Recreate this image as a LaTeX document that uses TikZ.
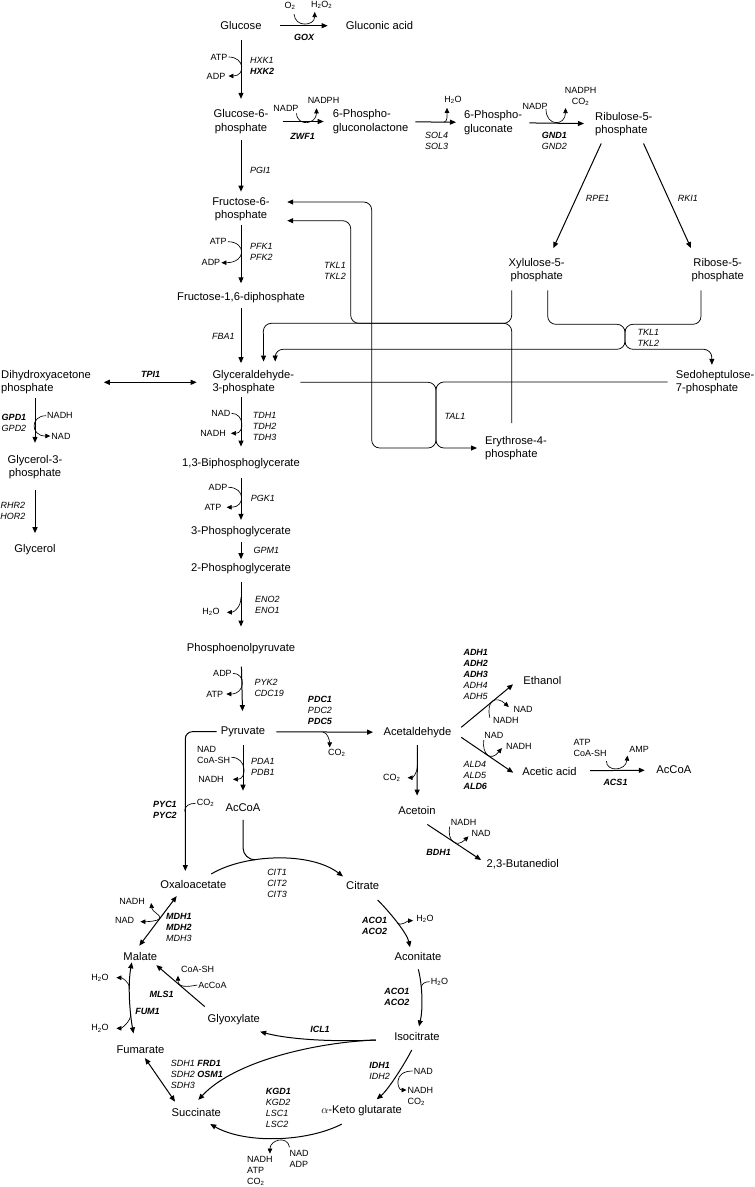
\documentclass[tikz,border=0pt]{standalone}
\usepackage{fontspec}
\setmainfont{Liberation Sans}
\usetikzlibrary{arrows.meta}
\newcommand{\htwoo}{H\textsubscript{2}O}
\newcommand{\cotwo}{CO\textsubscript{2}}

\tikzset{
  met/.style={font=\fontsize{11.2}{13.5}\selectfont, inner sep=2pt},
  metl/.style={met, align=left},
  metc/.style={met, align=center},
  cof/.style={font=\fontsize{9}{11}\selectfont, inner sep=1pt},
  enz/.style={font=\fontsize{9}{11}\selectfont\itshape, inner sep=1pt, align=center},
  enzl/.style={enz, align=left},
  rxn/.style={-{Triangle[length=6pt,width=5pt]}, line width=1pt},
  revrxn/.style={{Triangle[length=6pt,width=5pt]}-{Triangle[length=6pt,width=5pt]}, line width=1pt},
  cofin/.style={line width=0.65pt},
  cofout/.style={-{Triangle[length=5pt,width=4.5pt]}, line width=0.65pt},
  cofboth/.style={{Triangle[length=5pt,width=4.5pt]}-{Triangle[length=5pt,width=4.5pt]}, line width=0.65pt},
  tkline/.style={-{Triangle[length=6pt,width=5pt]}, line width=0.75pt, rounded corners=8pt},
  sh/.style 2 args={shorten <=#1, shorten >=#2},
}

\begin{document}
\begin{tikzpicture}[x=1pt,y=-1pt]
  \useasboundingbox (0,0) rectangle (755,1187);

  % metabolites
  \node[met] (glc) at (241,25.7) {Glucose};
  \node[met] (gla) at (379.5,25.7) {Gluconic acid};
  \node[metc] (g6p) at (241,121.5) {Glucose-6-\\phosphate};
  \node[metl, anchor=west] (pgl) at (330.7,121.5) {6-Phospho-\\gluconolactone};
  \node[metl, anchor=west] (pgn) at (462,122.5) {6-Phospho-\\gluconate};
  \node[metl, anchor=west] (ru5p) at (593,124) {Ribulose-5-\\phosphate};
  \node[metc] (x5p) at (536.7,270.2) {Xylulose-5-\\phosphate};
  \node[metc] (r5p) at (717.7,270.2) {Ribose-5-\\phosphate};
  \node[metc] (f6p) at (241,209) {Fructose-6-\\phosphate};
  \node[met] (fbp) at (241,297.7) {Fructose-1,6-diphosphate};
  \node[metl, anchor=west] (gap) at (210.3,382.3) {Glyceraldehyde-\\3-phosphate};
  \node[metl, anchor=west] (dhap) at (-1,382.3) {Dihydroxyacetone\\phosphate};
  \node[metl, anchor=west] (s7p) at (673.7,382) {Sedoheptulose-\\7-phosphate};
  \node[metl, anchor=west] (e4p) at (483,448) {Erythrose-4-\\phosphate};
  \node[metc] (g3p) at (35,467) {Glycerol-3-\\phosphate};
  \node[met] (glyc) at (35,550) {Glycerol};
  \node[met] (bpg) at (241,463.3) {1,3-Biphosphoglycerate};
  \node[met] (pg3) at (241,531.7) {3-Phosphoglycerate};
  \node[met] (pg2) at (241,568.3) {2-Phosphoglycerate};
  \node[met] (pep) at (241,648.3) {Phosphoenolpyruvate};
  \node[met] (pyr) at (243,731.7) {Pyruvate};
  \node[met] (acald) at (417.5,732.3) {Acetaldehyde};
  \node[met] (etoh) at (542.3,680) {Ethanol};
  \node[met] (acet) at (549.5,771) {Acetic acid};
  \node[met] (accoa2) at (673.8,770) {AcCoA};
  \node[met] (acetoin) at (417,810.7) {Acetoin};
  \node[met] (btd) at (522.8,864) {2,3-Butanediol};
  \node[met] (accoa) at (243,807.7) {AcCoA};
  \node[met] (oaa) at (193.3,884.3) {Oxaloacetate};
  \node[met] (cit) at (362.7,885.7) {Citrate};
  \node[met] (aco) at (418,956) {Aconitate};
  \node[met] (icit) at (417,1036.7) {Isocitrate};
  \node[met] (akg) at (361.7,1110.7) {$\alpha$-Keto glutarate};
  \node[met] (suc) at (196.3,1112.7) {Succinate};
  \node[met] (fum) at (140.5,1050) {Fumarate};
  \node[met] (mal) at (140.3,956) {Malate};
  \node[met] (glx) at (233.8,1019.3) {Glyoxylate};

  % genes
  \node[enz] (gox) at (304,37) {\textbf{GOX}};
  \node[enzl, anchor=west] (hxk) at (249,65.5) {HXK1\\\textbf{HXK2}};
  \node[enz] (zwf) at (302.7,136) {\textbf{ZWF1}};
  \node[enz] (sol) at (436.7,140.5) {SOL4\\SOL3};
  \node[enz] (gnd) at (554.3,141.2) {\textbf{GND1}\\GND2};
  \node[enz, anchor=west] (rpe) at (584.7,198.3) {RPE1};
  \node[enz, anchor=west] (rki) at (676.7,198.3) {RKI1};
  \node[enz, anchor=west] (pgi) at (249,170) {PGI1};
  \node[enzl, anchor=west] (pfk) at (249,251.7) {PFK1\\PFK2};
  \node[enz] (tkla) at (335,271.2) {TKL1\\TKL2};
  \node[enzl, anchor=west] (tklb) at (636.3,338.2) {TKL1\\TKL2};
  \node[enz, anchor=west] (tal) at (443.3,416.7) {TAL1};
  \node[enz] (fba) at (223.3,336.7) {FBA1};
  \node[enz] (tpi) at (150.7,374) {\textbf{TPI1}};
  \node[enz] (gpd) at (14,422.5) {\textbf{GPD1}\\GPD2};
  \node[enz] (rhr) at (13,510.5) {RHR2\\HOR2};
  \node[enzl, anchor=west] (tdh) at (251.7,426) {TDH1\\TDH2\\TDH3};
  \node[enz, anchor=west] (pgk) at (249.7,498.3) {PGK1};
  \node[enz, anchor=west] (gpm) at (252.3,550) {GPM1};
  \node[enzl, anchor=west] (eno) at (254,605) {ENO2\\ENO1};
  \node[enzl, anchor=west] (pyk) at (253.3,688) {PYK2\\CDC19};
  \node[enz] (pdc) at (320,710) {\textbf{PDC1}\\PDC2\\\textbf{PDC5}};
  \node[enzl, anchor=west] (pda) at (250,767.2) {PDA1\\PDB1};
  \node[enz] (pyc) at (165,809.5) {\textbf{PYC1}\\\textbf{PYC2}};
  \node[enzl, anchor=west] (adh) at (462.3,674.7) {\textbf{ADH1}\\\textbf{ADH2}\\\textbf{ADH3}\\ADH4\\ADH5};
  \node[enzl, anchor=west] (ald) at (462.3,775) {ALD4\\ALD5\\\textbf{ALD6}};
  \node[enz] (acs) at (615.5,782.3) {\textbf{ACS1}};
  \node[enz] (bdh) at (438.7,852.7) {\textbf{BDH1}};
  \node[enz] (cits) at (277,883.3) {CIT1\\CIT2\\CIT3};
  \node[enz] (acoa) at (374.7,925.7) {\textbf{ACO1}\\\textbf{ACO2}};
  \node[enz] (acob) at (396.8,997) {\textbf{ACO1}\\\textbf{ACO2}};
  \node[enzl, anchor=west] (mdh) at (165,927.3) {\textbf{MDH1}\\\textbf{MDH2}\\MDH3};
  \node[enz] (fumz) at (147.5,1011.7) {\textbf{FUM1}};
  \node[enz] (mls) at (161.7,994) {\textbf{MLS1}};
  \node[enz] (icl) at (320,1029.3) {\textbf{ICL1}};
  \node[enzl, anchor=west] (sdh) at (169.7,1074) {SDH1 \textbf{FRD1}\\SDH2 \textbf{OSM1}\\SDH3};
  \node[enz] (idh) at (379.7,1070.5) {\textbf{IDH1}\\IDH2};
  \node[enzl, anchor=west] (kgd) at (264.7,1107.8) {\textbf{KGD1}\\KGD2\\LSC1\\LSC2};

  % cofactors
  \node[cof] (o2) at (290,6) {O\textsubscript{2}};
  \node[cof] (h2o2) at (321.7,5) {H\textsubscript{2}O\textsubscript{2}};
  \node[cof] (atp1) at (219,57) {ATP};
  \node[cof] (adp1) at (216,76) {ADP};
  \node[cof] (nadp1) at (286,108) {NADP};
  \node[cof] (nadph1) at (323.5,100) {NADPH};
  \node[cof] (h2o1) at (453,100) {\htwoo};
  \node[cof] (nadp2) at (535,106.7) {NADP};
  \node[cof, align=center] (nadph2) at (580.5,96.7) {NADPH\\\cotwo};
  \node[cof] (atp2) at (218.3,241.7) {ATP};
  \node[cof] (adp2) at (211,262.7) {ADP};
  \node[cof] (nadh1) at (60,415.7) {NADH};
  \node[cof] (nad1) at (61,436) {NAD};
  \node[cof] (nad2) at (220.8,413.3) {NAD};
  \node[cof] (nadh2) at (213,433.3) {NADH};
  \node[cof] (adp3) at (218,487.3) {ADP};
  \node[cof] (atp3) at (213,507.3) {ATP};
  \node[cof] (h2o3) at (211,612.3) {\htwoo};
  \node[cof] (adp4) at (222.5,673.3) {ADP};
  \node[cof] (atp4) at (214.7,694) {ATP};
  \node[cof] (co2a) at (336.7,753.3) {\cotwo};
  \node[cof, align=left, anchor=west] (pdain) at (196,755.3) {NAD\\CoA-SH};
  \node[cof] (nadh3) at (211,779.3) {NADH};
  \node[cof] (co2b) at (205.5,803.3) {\cotwo};
  \node[cof] (co2c) at (391.7,777.7) {\cotwo};
  \node[cof] (nad4) at (523,709.3) {NAD};
  \node[cof] (nadh4) at (505.8,720) {NADH};
  \node[cof] (nad5) at (493.8,735) {NAD};
  \node[cof] (nadh5) at (518.8,746) {NADH};
  \node[cof, align=left, anchor=west] (acsin) at (572.5,748.3) {ATP\\CoA-SH};
  \node[cof] (amp) at (639.2,749) {AMP};
  \node[cof] (nadh6) at (463.7,822.3) {NADH};
  \node[cof] (nad6) at (481.2,833.3) {NAD};
  \node[cof] (h2o4) at (425,919.3) {\htwoo};
  \node[cof] (h2o5) at (439.5,981.7) {\htwoo};
  \node[cof] (nadh7) at (132.2,901) {NADH};
  \node[cof] (nad7) at (124.7,920.7) {NAD};
  \node[cof] (coash) at (197.7,969.3) {CoA-SH};
  \node[cof] (accoa3) at (212.5,985) {AcCoA};
  \node[cof] (h2o6) at (100,977.7) {\htwoo};
  \node[cof] (h2o7) at (100,1028.3) {\htwoo};
  \node[cof] (nad8) at (423.3,1071) {NAD};
  \node[cof, align=left, anchor=west] (nadh8) at (406.5,1096) {NADH\\\cotwo};
  \node[cof, align=left, anchor=west] (kgdin) at (288.5,1159) {NAD\\ADP};
  \node[cof, align=left, anchor=west] (kgdout) at (246,1170.5) {NADH\\ATP\\\cotwo};

  % glucose, pentose phosphate
  \draw[rxn, sh={16pt}{16pt}] (glc) -- (gla);
  \draw[cofout] ([shift={(4,8)}]o2.center) .. controls +(1,14) and +(0,14) .. ([shift={(-7,7)}]h2o2.center);
  \draw[rxn, sh={8pt}{8.5pt}] (glc) -- (g6p);
  \draw[cofout] (atp1.east) .. controls +(16.5,0) and +(17,0) .. ([xshift=2pt]adp1.east);
  \draw[rxn, sh={12pt}{7pt}] (g6p) -- (pgl);
  \draw[cofout] ([shift={(10.5,1)}]nadp1.south) .. controls +(1,14) and +(0,16) .. ([shift={(-7,4)}]nadph1.south);
  \draw[rxn, sh={5pt}{6pt}] (pgl) -- coordinate[pos=0.65] (solc) (pgn);
  \draw[cofout] (solc) .. controls +(4,0) and +(0,6) .. ([shift={(-6,3)}]h2o1.south);
  \draw[rxn, sh={5pt}{9pt}] (pgn) -- (ru5p);
  \draw[cofout] ([shift={(11,-2)}]nadp2.south) .. controls +(0,18) and +(0,18) .. ([shift={(-15,1)}]nadph2.south);
  \draw[rxn] ([shift={(-22.6,5.3)}]ru5p.south) -- ([shift={(16.6,-7.9)}]x5p.north);
  \draw[rxn] ([shift={(19.7,5.3)}]ru5p.south) -- ([shift={(-26.7,-7.9)}]r5p.north);

  % glycolysis
  \draw[rxn, sh={4.5pt}{3.3pt}] (g6p) -- (f6p);
  \draw[rxn, sh={2pt}{7pt}] (f6p) -- (fbp);
  \draw[cofout] (atp2.east) .. controls +(18.4,0) and +(25.2,0) .. (adp2.east);
  \draw[rxn, sh={3pt}{5pt}] (fbp) -- (fbp |- gap.north);
  \draw[revrxn, sh={10.7pt}{13.6pt}] (dhap) -- (gap);
  \draw[rxn, sh={0.7pt}{9.3pt}] (fbp |- gap.south) -- (bpg);
  \draw[cofout] (nad2.east) .. controls +(13,0) and +(13.6,0) .. ([xshift=4pt]nadh2.east);
  \draw[rxn, sh={7.7pt}{4.4pt}] (bpg) -- (pg3);
  \draw[cofout] (adp3.east) .. controls +(17.2,0) and +(18.7,0) .. ([xshift=4pt]atp3.east);
  \draw[rxn, sh={2.7pt}{1.7pt}] (pg3) -- (pg2);
  \draw[rxn, sh={6pt}{14.3pt}] (pg2) -- coordinate[pos=0.33] (enoc) (pep);
  \draw[cofout] (enoc) .. controls +(0,10) and +(7,0) .. ([xshift=6pt]h2o3.east);
  \draw[rxn, sh={11pt}{13.4pt}] (pep) -- (pyr);
  \draw[cofout] (adp4.east) .. controls +(13.3,0) and +(19.1,0) .. ([xshift=2pt]atp4.east);

  % glycerol
  \draw[rxn, sh={2pt}{10pt}] (dhap.south -| g3p) -- (g3p);
  \draw[cofout] (nadh1.west) .. controls +(-16,0) and +(-20,0) .. (nad1.west);
  \draw[rxn, sh={9pt}{9.4pt}] (g3p) -- (glyc);

  % pentose phosphate links
  \draw[tkline] ([xshift=4pt]gap.east) -| (436,448) -- ([xshift=-6pt]e4p.west);
  \draw[tkline] ([xshift=-6pt]s7p.west) -| (436,448) -| (371.7,202) -- ([shift={(15.4,-7)}]f6p.east);
  \draw[tkline] ([shift={(-25,6)}]x5p.south) |- (263.3,323.3) -- ([shift={(10.3,-6.6)}]gap.north);
  \draw[tkline] ([shift={(28.7,-10.7)}]e4p.north west) |- (350.7,323.3) |- ([shift={(15.4,11.7)}]f6p.east);
  \draw[tkline] ([shift={(11,6)}]x5p.south) |- (625,324.3) |- (275,349.3) -- ([shift={(22,-6.6)}]gap.north);
  \draw[tkline] ([shift={(-16.7,6)}]r5p.south) |- (625,324.3) |- (711.7,349.3) -- ([shift={(-3.2,-3)}]s7p.north);

  % pyruvate
  \draw[rxn, sh={9pt}{8.3pt}] (pyr) -- coordinate[pos=0.486] (pdcc) (acald);
  \draw[cofout] (pdcc) .. controls +(5,0) and +(0,-6) .. ([shift={(-7,-1)}]co2a.north);
  \draw[rxn, sh={6pt}{10.8pt}] (pyr) -- (accoa);
  \draw[cofout] ([shift={(0,2)}]pdain.east) .. controls +(15.7,0) and +(14,0) .. ([xshift=8pt]nadh3.east);
  \draw[rxn, rounded corners=7pt] ([xshift=-2pt]pyr.west) -| ([shift={(-8,-7)}]oaa.north);
  \coordinate (pycc) at ([shift={(-11,8)}]co2b.west);
  \draw[cofin] (co2b.west) .. controls +(-7,0) and +(0,-5) .. (pycc);

  % acetaldehyde
  \draw[rxn, sh={5.4pt}{8.8pt}] (acald) -- coordinate[pos=0.4] (acetc) (acetoin);
  \draw[cofout] (acetc) .. controls +(0,8) and +(5,0) .. ([xshift=6pt]co2c.east);
  \draw[rxn] ([shift={(10.3,7.4)}]acetoin.south) -- ([shift={(-3.4,-4)}]btd.west);
  \draw[cofout] (nadh6.south west) .. controls +(-3,14.5) and +(-11.7,11.7) .. ([shift={(-2,3)}]nad6.west);
  \draw[rxn] ([shift={(7.6,-5)}]acald.east) -- ([shift={(-8,4.3)}]etoh.west);
  \draw[cofout] ([shift={(-2,2)}]nadh4.north west) .. controls +(-4,-17) and +(-13,-12) .. ([shift={(-3.5,-2.3)}]nad4.west);
  \draw[rxn] ([shift={(7.6,5)}]acald.east) -- ([shift={(-7,1.7)}]acet.west);
  \draw[cofout] ([shift={(0.7,0.8)}]nad5.south west) .. controls +(-2,14) and +(-11,14) .. ([shift={(-3,2)}]nadh5.west);
  \draw[rxn, sh={11.4pt}{9.4pt}] (acet) -- (accoa2);
  \draw[cofout] ([shift={(-1.5,3)}]acsin.south east) .. controls +(0,11) and +(-1.7,15.5) .. ([shift={(-0.8,2.3)}]amp.south west);

  % TCA and glyoxylate cycle
  \draw[line width=1pt] ([shift={(0,6)}]accoa.south) -- ++(0,28) .. controls +(0,7) and +(-6,0) .. ++(12.2,12);
  \draw[rxn] ([shift={(18,-4)}]oaa.north) .. controls +(33,-20) and +(-33,-25) .. ([shift={(-1,-3)}]cit.north west);
  \draw[rxn] ([shift={(15,8)}]cit.south) .. controls +(12,12) and +(-3,-14) .. coordinate[pos=0.5] (aco1c) ([shift={(-8,-2.5)}]aco.north);
  \draw[cofout] (aco1c) .. controls +(3,4) and +(-5,0) .. ([shift={(-2,1.4)}]h2o4.west);
  \draw[rxn] ([shift={(0.3,7)}]aco.south) .. controls +(4.2,16) and +(4,-17) .. coordinate[pos=0.35] (aco2c) ([shift={(2,-4)}]icit.north);
  \draw[cofin] (h2o5.west) .. controls +(-5,0) and +(0,-5) .. (aco2c);
  \draw[rxn] ([shift={(-5.3,7)}]icit.south) .. controls +(-6,12) and +(12,-10) .. ([shift={(15,-4)}]akg.north);
  \draw[cofout] (nad8.west) .. controls +(-20,0) and +(-9,0) .. ([shift={(0,-6)}]nadh8.west);
  \draw[rxn] ([shift={(-16.3,3.3)}]icit.west) .. controls +(-40,2) and +(30,8) .. ([shift={(-2,5)}]glx.south east);
  \draw[rxn] ([shift={(-16.3,3.3)}]icit.west) .. controls +(-56,2) and +(37,-40) .. ([shift={(2,-6.5)}]suc.north);
  \draw[rxn] ([shift={(-20,6)}]akg.south) .. controls +(-35,18) and +(35,20) .. ([shift={(-12.9,5)}]suc.south east);
  \draw[cofout] ([shift={(1,-2)}]kgdin.north west) .. controls +(-2,-12) and +(0,-14) .. ([shift={(10,-1)}]kgdout.north);
  \draw[revrxn] ([shift={(4.5,2)}]fum.south) -- ([shift={(-21.3,-4.8)}]suc.north);
  \draw[revrxn] ([shift={(-8.5,0)}]mal.south) .. controls +(-4,22) and +(-4,-22) .. coordinate[pos=0.38] (fuma) coordinate[pos=0.72] (fumb) ([shift={(-7,-10.5)}]fum.north);
  \draw[cofout] (fuma) .. controls +(0,-8) and +(5,0) .. ([xshift=6.5pt]h2o6.east);
  \draw[cofout] (fumb) .. controls +(0,8) and +(5,0) .. ([xshift=6.5pt]h2o7.east);
  \draw[revrxn] ([shift={(-16.6,5.5)}]oaa.south) -- coordinate[pos=0.45] (mdhc) ([shift={(-1,-4)}]mal.north);
  \draw[cofboth] ([shift={(5,2)}]nadh7.east) .. controls +(1,9) and +(1,-4) .. (mdhc) .. controls +(-2,3) and +(6,0) .. ([shift={(5,1)}]nad7.east);
  \draw[rxn] ([shift={(-0.7,-5.3)}]glx.north west) -- ([shift={(-3,2.8)}]mal.south east);
  \draw[cofout] (accoa3.west) .. controls +(-10,2) and +(0,12) .. ([shift={(-2,2)}]coash.south west);
\end{tikzpicture}
\end{document}
